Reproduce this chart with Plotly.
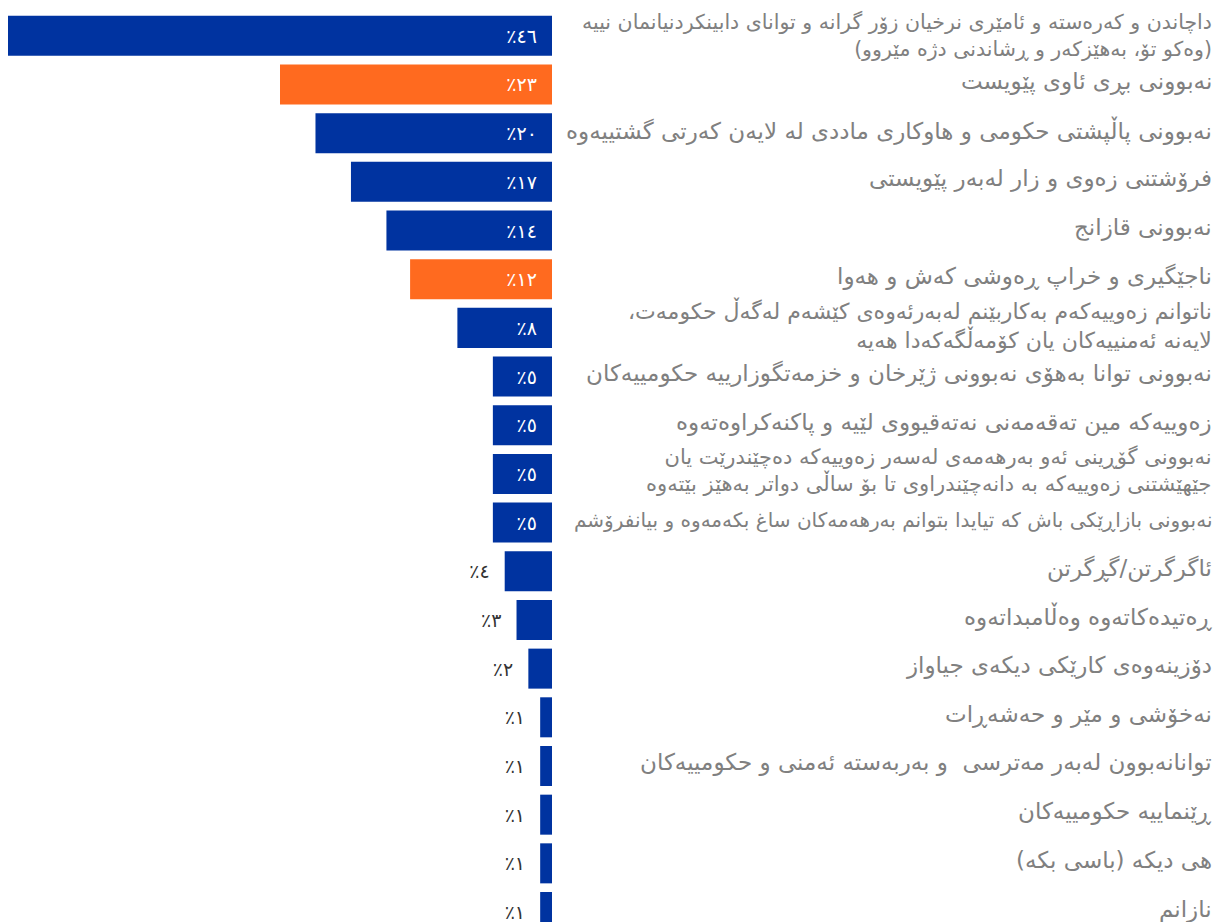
import plotly.graph_objects as go

LABELS = [
    "داچاندن و کەرەستە و ئامێری نرخیان زۆر گرانە و توانای دابینکردنیانمان نییە<br>(وەکو تۆ، بەهێزکەر و ڕشاندنی دژە مێروو)",
    "نەبوونی بڕی ئاوی پێویست",
    "نەبوونی پاڵپشتی حکومی و هاوکاری ماددی لە لایەن کەرتی گشتییەوە",
    "فرۆشتنی زەوی و زار لەبەر پێویستی",
    "نەبوونی قازانج",
    "ناجێگیری و خراپ ڕەوشی کەش و هەوا",
    "ناتوانم زەوییەکەم بەکاربێنم لەبەرئەوەی کێشەم لەگەڵ حکومەت،<br>لایەنە ئەمنییەکان یان کۆمەڵگەکەدا هەیە",
    "نەبوونی توانا بەهۆی نەبوونی ژێرخان و خزمەتگوزارییە حکومییەکان",
    "زەوییەکە مین تەقەمەنی نەتەقیووی لێیە و پاکنەکراوەتەوە",
    "نەبوونی گۆڕینی ئەو بەرهەمەی لەسەر زەوییەکە دەچێندرێت یان<br>جێهێشتنی زەوییەکە بە دانەچێندراوی تا بۆ ساڵی دواتر بەهێز بێتەوە",
    "نەبوونی بازاڕێکی باش کە تیایدا بتوانم بەرهەمەکان ساغ بکەمەوە و بیانفرۆشم",
    "ئاگرگرتن/گڕگرتن",
    "ڕەتیدەکاتەوە وەڵامبداتەوە",
    "دۆزینەوەی کارێکی دیکەی جیاواز",
    "نەخۆشی و مێر و حەشەڕات",
    "توانانەبوون لەبەر مەترسی  و بەربەستە ئەمنی و حکومییەکان",
    "ڕێنماییە حکومییەکان",
    "هی دیکە (باسی بکە)",
    "نازانم",
]
VALUES = [46, 23, 20, 17, 14, 12, 8, 5, 5, 5, 5, 4, 3, 2, 1, 1, 1, 1, 1]
HIGHLIGHT = [1, 5]  # orange rows

BLUE = "#0033a0"
ORANGE = "#ff6a1f"
LABEL_SIZE = 23
LABEL_SIZES = {0: 20.5, 6: 22, 9: 21, 10: 20}
LABEL_SHIFT = {0: 0}

AR_DIGITS = str.maketrans("0123456789", "٠١٢٣٤٥٦٧٨٩")


def pct(v):
    return "٪" + str(v).translate(AR_DIGITS) + "\u00a0\u00a0"


def rtl(text):
    # wrap every line in RLM so the browser lays it out right-to-left
    return "<br>".join("\u200f" + line + "\u200f" for line in text.split("<br>"))


keys = [str(i) for i in range(len(VALUES))]
colors = [ORANGE if i in HIGHLIGHT else BLUE for i in range(len(VALUES))]
inside = [v >= 5 for v in VALUES]

fig = go.Figure(
    go.Bar(
        x=VALUES,
        y=keys,
        orientation="h",
        marker=dict(color=colors, line=dict(width=0)),
        text=[pct(v) for v in VALUES],
        textposition=["inside" if f else "outside" for f in inside],
        insidetextanchor="start",
        textfont=dict(
            family="DejaVu Sans",
            size=19,
            color=["#ffffff" if f else "#333333" for f in inside],
        ),
        constraintext="none",
        cliponaxis=False,
        hoverinfo="skip",
    )
)

for i, lab in enumerate(LABELS):
    fig.add_annotation(
        x=1206 / 1223,
        xref="paper",
        xanchor="right",
        y=keys[i],
        yref="y",
        yanchor="middle",
        yshift=LABEL_SHIFT.get(i, 3),
        text=rtl(lab),
        align="right",
        showarrow=False,
        font=dict(
            family="DejaVu Sans",
            size=LABEL_SIZES.get(i, LABEL_SIZE),
            color="#808080",
        ),
    )

fig.update_xaxes(domain=[0, 544 / 1223], range=[46, 0], visible=False)
fig.update_yaxes(type="category", range=[18.205, -0.571], visible=False)
fig.update_layout(
    width=1223,
    height=914,
    margin=dict(t=0, l=0, r=0, b=0, pad=0),
    bargap=0.178,
    showlegend=False,
    paper_bgcolor="#ffffff",
    plot_bgcolor="#ffffff",
)

fig.write_html("out.html")
